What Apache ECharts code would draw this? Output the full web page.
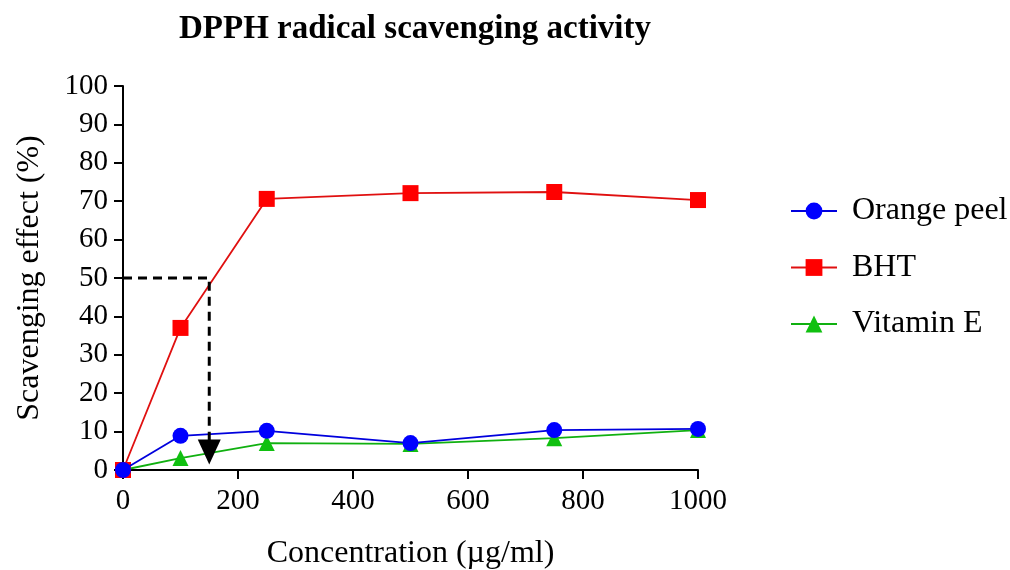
<!DOCTYPE html>
<html><head><meta charset="utf-8">
<script src="https://cdn.jsdelivr.net/npm/echarts@6/dist/echarts.min.js"></script>
<style>html,body{margin:0;padding:0;background:#fff}#c{width:1010px;height:570px}</style>
</head><body><div id="c"></div>
<script>
const conc = [0, 100, 250, 500, 750, 1000];
const orangePeel = [0, 8.9, 10.2, 7.0, 10.4, 10.7];
const bht = [0, 37.0, 70.6, 72.1, 72.4, 70.3];
const vitaminE = [0, 3.1, 7.0, 6.8, 8.3, 10.4];
const ic50Guide = [[0, 50], [150, 50], [150, 6]];
const arrowTip = [[150, 4.7]];

const font = 'Liberation Serif';
const pair = (xs, ys) => xs.map((x, i) => [x, ys[i]]);
const chart = echarts.init(document.getElementById('c'));
chart.setOption({
  animation: false,
  backgroundColor: '#fff',
  title: {
    text: 'DPPH radical scavenging activity', left: 410, top: 8, textAlign: 'center',
    textStyle: {fontFamily: font, fontWeight: 'bold', fontSize: 33, color: '#000'}
  },
  grid: {left: 123, right: 312, top: 86, bottom: 100, outerBoundsMode: 'none', containLabel: false},
  legend: {
    orient: 'vertical', left: 785, top: 190, itemGap: 24.5, itemWidth: 46, itemHeight: 21,
    textStyle: {fontFamily: font, fontSize: 32, color: '#000', padding: [0, 0, 0, 10]},
    data: ['Orange peel', 'BHT', 'Vitamin E']
  },
  xAxis: {
    type: 'value', min: 0, max: 1000, interval: 200,
    name: 'Concentration (µg/ml)', nameLocation: 'middle', nameGap: 68,
    nameTextStyle: {fontFamily: font, fontSize: 32, color: '#000'},
    axisLine: {lineStyle: {color: '#000', width: 2}},
    axisTick: {show: true, length: 9, lineStyle: {color: '#000', width: 2}},
    axisLabel: {fontFamily: font, fontSize: 29, color: '#000', margin: 17, formatter: v => String(v)},
    splitLine: {show: false}
  },
  yAxis: {
    type: 'value', min: 0, max: 100, interval: 10,
    name: 'Scavenging effect (%)', nameLocation: 'middle', nameGap: 77, nameRotate: 90,
    nameTextStyle: {fontFamily: font, fontSize: 32, color: '#000'},
    axisLine: {show: true, lineStyle: {color: '#000', width: 2}},
    axisTick: {show: true, length: 9, lineStyle: {color: '#000', width: 2}},
    axisLabel: {fontFamily: font, fontSize: 29, color: '#000', margin: 15, formatter: v => String(v)},
    splitLine: {show: false}
  },
  series: [
    {
      name: 'Orange peel', type: 'line', data: pair(conc, orangePeel), z: 5,
      symbol: 'circle', symbolSize: 16,
      lineStyle: {color: '#0000dd', width: 1.8}, itemStyle: {color: '#0000ff'}
    },
    {
      name: 'BHT', type: 'line', data: pair(conc, bht), z: 4,
      symbol: 'rect', symbolSize: 16,
      lineStyle: {color: '#e01010', width: 1.8}, itemStyle: {color: '#ff0000'}
    },
    {
      name: 'Vitamin E', type: 'line', data: pair(conc, vitaminE), z: 3,
      symbol: 'triangle', symbolSize: 16,
      lineStyle: {color: '#10b010', width: 1.8}, itemStyle: {color: '#10c010'}
    },
    {
      name: 'guide', type: 'line', data: ic50Guide, symbol: 'none', z: 6,
      lineStyle: {color: '#000', width: 3, type: [9, 6]}, silent: true
    },
    {
      name: 'arrow', type: 'scatter', data: arrowTip, symbol: 'triangle', symbolRotate: 180,
      symbolSize: [23, 25], itemStyle: {color: '#000', opacity: 1}, z: 7, silent: true
    }
  ]
});
</script></body></html>
